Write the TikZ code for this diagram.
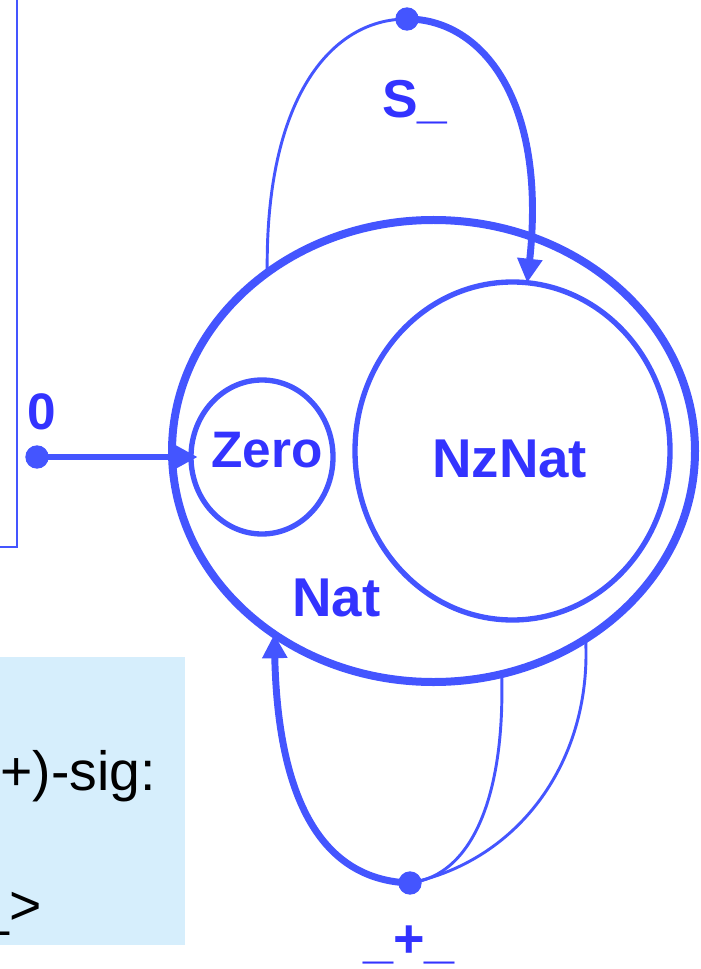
\documentclass[tikz,border=0pt]{standalone}
\usepackage{fontspec}
\setmainfont{Liberation Sans}
\usetikzlibrary{shapes.geometric,arrows.meta}
\definecolor{edgeblue}{RGB}{68,85,255}
\definecolor{labelblue}{RGB}{51,51,255}
\definecolor{sigbg}{RGB}{214,238,252}
\newcommand{\lblsize}[1]{\fontsize{#1}{#1}\selectfont\bfseries}
\begin{document}
\begin{tikzpicture}[x=0.75pt,y=-0.75pt,
  sortset/.style={ellipse,draw=edgeblue,inner sep=0pt,outer sep=0pt},
  lbl/.style={text=labelblue,font=\lblsize{#1},inner sep=0pt,anchor=base west},
  lbl/.default=40pt,
  sigtext/.style={text=black,font=\fontsize{41.5}{41.5}\selectfont,inner sep=0pt,anchor=base west},
  opdot/.style={circle,fill=edgeblue,inner sep=0pt,minimum size=17.5pt},
  thinedge/.style={draw=edgeblue,line width=2.2pt},
  mainedge/.style={draw=edgeblue,line width=5.2pt,-{Triangle[width=18pt,length=18pt]}},
]
\useasboundingbox (0,0) rectangle (700,969);
\clip (0,0) rectangle (700,969);

% signature box and enclosing frame on the left
\fill[sigbg] (-5,657) rectangle (185,945);
\node[sigtext] (sigA) at (0,790) {+)-sig:};
\node[sigtext] (sigB) at (-21.6,924) {\_>};
\draw[edgeblue,line width=1.5pt] (17,-5) -- (17,547) -- (-5,547);

% sorts
\node[sortset,line width=6pt,minimum width=392.25pt,minimum height=346.5pt] (nat) at (433.5,451) {};
\node[sortset,line width=4pt,minimum width=236.25pt,minimum height=253.5pt] (nz) at (512.5,451) {};
\node[sortset,line width=4pt,minimum width=106.5pt,minimum height=115.5pt] (zero) at (262,457) {};

% operation points
\node[opdot] (zdot) at (37,457) {};
\node[opdot] (sdot) at (407,19) {};
\node[opdot] (pdot) at (410,883) {};

% 0 : -> Zero
\draw[mainedge,shorten >=-5pt] (zdot.center) -- (zero.west);

% S_ : Nat -> NzNat
\draw[thinedge] (nat.133.8) .. controls (265,100) and (330,19) .. (sdot.center);
\draw[mainedge] (sdot.center) .. controls (482,19) and (547,100) .. (nz.85.4);

% _+_ : Nat Nat -> Nat
\draw[mainedge] (pdot.center) .. controls (322,880) and (278,800) .. (nat.229.6);
\draw[thinedge] (pdot.center) .. controls (475,875) and (505,790) .. (nat.287.3);
\draw[thinedge] (pdot.center) .. controls (520,860) and (592,760) .. (nat.309.6);

% labels
\node[lbl=38.5pt] (lzero0) at (27,429) {0};
\node[lbl=38.5pt] (lzero) at (211,467) {Zero};
\node[lbl=41pt] (lnz) at (432,477) {NzNat};
\node[lbl=41pt] (lnat) at (292,616) {Nat};
\node[lbl=40pt] (lsucc) at (382,118) {S\_};
\node[lbl=40.5pt] (lplus) at (363,957) {\_+\_};
\end{tikzpicture}
\end{document}
